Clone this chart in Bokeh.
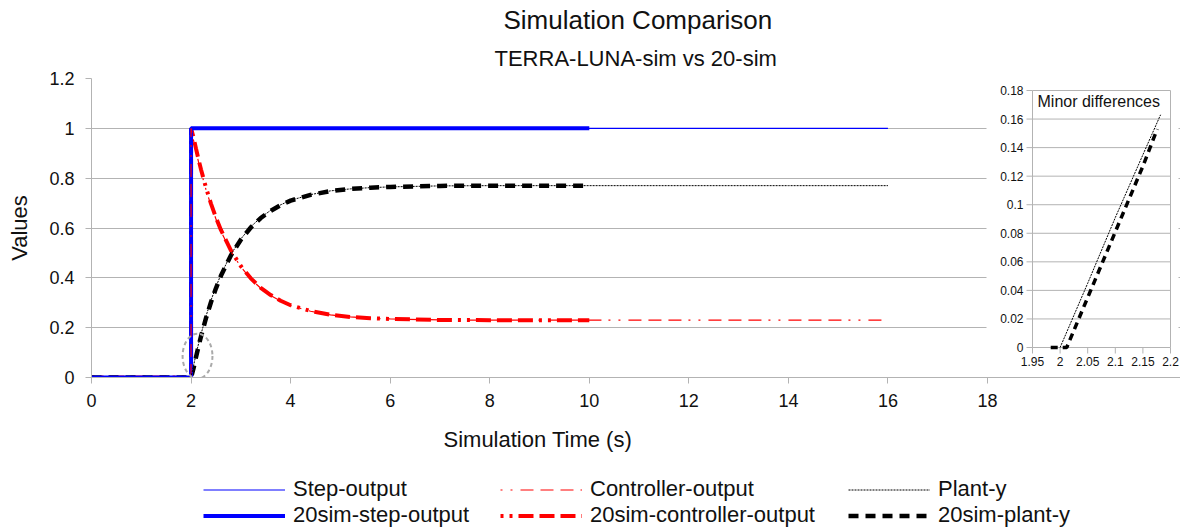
from bokeh.plotting import figure
from bokeh.layouts import column
from bokeh.models import Range1d, FixedTicker, Title, Legend, LegendItem
from bokeh.embed import file_html
from bokeh.resources import INLINE
from bokeh.core.properties import value

# ---------------- data ----------------
t_sim = [0, 1, 2, 2, 2.05, 2.1, 2.15, 2.2, 2.3, 2.4, 2.5, 2.6, 2.8, 3.0, 3.2, 3.4,
         3.6, 3.8, 4.0, 4.4, 4.8, 5.2, 5.6, 6.0, 7.0, 8.0, 9.0, 10.0, 12.0, 14.0, 16.0]
step_output = [0, 0, 0, 1, 1, 1, 1, 1, 1, 1, 1, 1, 1, 1, 1, 1,
               1, 1, 1, 1, 1, 1, 1, 1, 1, 1, 1, 1, 1, 1, 1]
controller_output = [0, 0, 0, 1.0, 0.952, 0.907, 0.865, 0.826, 0.754, 0.691, 0.636, 0.587,
                     0.506, 0.444, 0.395, 0.358, 0.329, 0.307, 0.289, 0.266, 0.251, 0.243,
                     0.238, 0.235, 0.231, 0.230, 0.230, 0.230, 0.230, 0.230, 0.230]
plant_y = [0, 0, 0, 0, 0.048, 0.093, 0.135, 0.174, 0.246, 0.309, 0.364, 0.413,
           0.494, 0.556, 0.605, 0.642, 0.671, 0.693, 0.711, 0.734, 0.749, 0.757,
           0.762, 0.765, 0.769, 0.770, 0.770, 0.770, 0.770, 0.770, 0.770]

t_20sim = [0, 1, 2, 2, 2.05, 2.1, 2.15, 2.2, 2.3, 2.4, 2.5, 2.6, 2.8, 3.0, 3.2, 3.4,
           3.6, 3.8, 4.0, 4.4, 4.8, 5.2, 5.6, 6.0, 7.0, 8.0, 9.0, 10.0]
sim20_step_output = [0, 0, 0, 1, 1, 1, 1, 1, 1, 1, 1, 1, 1, 1, 1, 1,
                     1, 1, 1, 1, 1, 1, 1, 1, 1, 1, 1, 1]
sim20_controller_output = [0, 0, 0, 1.0, 0.963, 0.918, 0.875, 0.835, 0.762, 0.698, 0.642, 0.592,
                           0.510, 0.447, 0.398, 0.360, 0.331, 0.308, 0.290, 0.267, 0.252, 0.243,
                           0.238, 0.235, 0.231, 0.230, 0.230, 0.230]
sim20_plant_y = [0, 0, 0, 0, 0.037, 0.082, 0.125, 0.165, 0.238, 0.302, 0.358, 0.408,
                 0.490, 0.553, 0.602, 0.640, 0.669, 0.692, 0.710, 0.733, 0.748, 0.757,
                 0.762, 0.765, 0.769, 0.770, 0.770, 0.770]

# zoomed-in detail ("Minor differences")
inset_t_plant = [2.0, 2.05, 2.1, 2.15, 2.182]
inset_plant_y = [0.0, 0.045, 0.091, 0.135, 0.163]
inset_t_20sim = [1.983, 2.012, 2.05, 2.1, 2.15, 2.176]
inset_20sim_plant_y = [0.0, 0.0, 0.035, 0.081, 0.127, 0.153]

x_ticks = [0, 2, 4, 6, 8, 10, 12, 14, 16, 18]
y_ticks = [0, 0.2, 0.4, 0.6, 0.8, 1.0, 1.2]
y_tick_labels = ["0", "0.2", "0.4", "0.6", "0.8", "1", "1.2"]
inset_x_ticks = [1.95, 2.0, 2.05, 2.1, 2.15, 2.2]
inset_x_labels = ["1.95", "2", "2.05", "2.1", "2.15", "2.2"]
inset_y_ticks = [0, 0.02, 0.04, 0.06, 0.08, 0.1, 0.12, 0.14, 0.16, 0.18]
inset_y_labels = ["0", "0.02", "0.04", "0.06", "0.08", "0.1", "0.12", "0.14", "0.16", "0.18"]

legend_labels = ["Step-output", "Controller-output", "Plant-y",
                 "20sim-step-output", "20sim-controller-output", "20sim-plant-y"]

# highlighted region around the step (centre x, centre y, width, height)
highlight = (2.13, 0.086, 0.6, 0.18)

# ---------------- layout (screen pixels of the reference) ----------------
FONT = "Liberation Sans"
TXT = "#111111"
GRID = "#b3b3b3"
W = 1180
H_MAIN, H_LEG = 470, 58
FR_L, FR_R, FR_T, FR_B = 91, 1180, 78, 377       # frame edges on the page
X18_PX = 987                                      # where x = 18 sits
IX0_PX, IX1_PX = 1032, 1170                       # inset x = 1.95 / 2.2
IY0_PX, IY1_PX = 347, 90                          # inset y = 0 / 0.18
LEG_COL_X = [203, 500, 848]                       # legend columns (page px)

x_end = x_ticks[-1] * (FR_R - FR_L) / (X18_PX - FR_L)
ix0, ix1 = inset_x_ticks[0], inset_x_ticks[-1]
iy0, iy1 = inset_y_ticks[0], inset_y_ticks[-1]
ipx = (ix1 - ix0) / (IX1_PX - IX0_PX)
ipy = (iy1 - iy0) / (IY0_PX - IY1_PX)

p = figure(width=W, height=H_MAIN, title=None, output_backend="svg", toolbar_location=None,
           x_range=Range1d(0, x_end), y_range=Range1d(y_ticks[0], y_ticks[-1]),
           min_border_left=FR_L, min_border_right=W - FR_R,
           min_border_top=FR_T, min_border_bottom=H_MAIN - FR_B)
p.extra_x_ranges = {"inset": Range1d(ix0 - (IX0_PX - FR_L) * ipx, ix1 + (FR_R - IX1_PX) * ipx)}
p.extra_y_ranges = {"inset": Range1d(iy0 - (FR_B - IY0_PX) * ipy, iy1 + (IY1_PX - FR_T) * ipy)}
p.outline_line_color = None

p.xgrid.visible = False
p.ygrid.grid_line_color = GRID
p.ygrid.ticker = FixedTicker(ticks=y_ticks)

for ax in (p.xaxis[0], p.yaxis[0]):
    ax.axis_line_color = GRID
    ax.major_tick_line_color = GRID
    ax.minor_tick_line_color = None
    ax.major_tick_in = 0
    ax.major_tick_out = 6
    ax.major_label_text_font = FONT
    ax.major_label_text_font_size = "18px"
    ax.major_label_text_color = TXT
    ax.axis_label_text_font = FONT
    ax.axis_label_text_font_size = "22px"
    ax.axis_label_text_font_style = "normal"
    ax.axis_label_text_color = TXT
p.xaxis.ticker = FixedTicker(ticks=x_ticks)
p.xaxis.major_label_standoff = 10
p.yaxis.ticker = FixedTicker(ticks=y_ticks)
p.yaxis.major_label_overrides = {t: s for t, s in zip(y_ticks, y_tick_labels)}
p.yaxis.major_label_standoff = 11
p.yaxis.axis_label = "Values"
p.yaxis.axis_label_standoff = 14

# ---------------- main series ----------------
STY = [
    dict(color="#0000ff", line_width=1.2),
    dict(color="#ff0000", line_width=1.2, line_dash="2 8 2 8 13 7 13 7 13 7"),
    dict(color="black", line_width=1, line_dash="2 1"),
    dict(color="#0000ff", line_width=4),
    dict(color="#ff0000", line_width=4, line_dash="3 6 3 6 15 6 15 6 15 6"),
    dict(color="black", line_width=4.5, line_dash="10 7"),
]
p.line(t_20sim, sim20_controller_output, **STY[4])
p.line(t_20sim, sim20_plant_y, **STY[5])
p.line(t_20sim, sim20_step_output, **STY[3])
p.line(t_sim, step_output, **STY[0])
p.line(t_sim, controller_output, **STY[1])
p.line(t_sim, plant_y, **STY[2])

hx, hy, hw, hh = highlight
p.ellipse(x=[hx], y=[hy], width=[hw], height=[hh], fill_alpha=0,
          line_color="#aaaaaa", line_width=2, line_dash="4 3")

# ---------------- inset ----------------
ins = dict(x_range_name="inset", y_range_name="inset")
p.quad(left=[ix0 - 46 * ipx], right=[ix1 + 8 * ipx], bottom=[iy0 - 25 * ipy],
       top=[iy1 + 10 * ipy], fill_color="white", line_color=None, **ins)
n_in = len(inset_y_ticks) - 2
p.segment(x0=[ix0] * n_in, y0=inset_y_ticks[1:-1], x1=[ix1] * n_in, y1=inset_y_ticks[1:-1],
          line_color=GRID, line_width=1, **ins)
p.quad(left=[ix0], right=[ix1], bottom=[iy0], top=[iy1], fill_alpha=0,
       line_color=GRID, line_width=1, **ins)
p.segment(x0=[ix0 - 6 * ipx] * len(inset_y_ticks), y0=inset_y_ticks,
          x1=[ix0] * len(inset_y_ticks), y1=inset_y_ticks, line_color=GRID, **ins)
p.segment(x0=inset_x_ticks, y0=[iy0] * len(inset_x_ticks),
          x1=inset_x_ticks, y1=[iy0 - 6 * ipy] * len(inset_x_ticks), line_color=GRID, **ins)
p.text(x=[ix0 - 9 * ipx] * len(inset_y_ticks), y=inset_y_ticks, text=inset_y_labels,
       text_align="right", text_baseline="middle", text_font=value(FONT),
       text_font_size="12px", text_color=TXT, **ins)
p.text(x=inset_x_ticks, y=[iy0 - 9 * ipy] * len(inset_x_ticks), text=inset_x_labels,
       text_align="center", text_baseline="top", text_font=value(FONT),
       text_font_size="12px", text_color=TXT, **ins)
p.text(x=[ix0 + 5 * ipx], y=[iy1 - 11 * ipy], text=["Minor differences"],
       text_align="left", text_baseline="middle", text_font=value(FONT),
       text_font_size="16px", text_color=TXT, **ins)
p.line(inset_t_plant, inset_plant_y, color="black", line_width=1, line_dash="2 1", **ins)
p.line(inset_t_20sim, inset_20sim_plant_y, color="black", line_width=3.5, line_dash="7 5", **ins)

# ---------------- titles ----------------
p.add_layout(Title(text="TERRA-LUNA-sim vs 20-sim", align="left", offset=494 - FR_L,
                   text_font=FONT, text_font_size="22px", text_font_style="normal",
                   text_color=TXT, standoff=16), "above")
p.add_layout(Title(text="Simulation Comparison", align="left", offset=503 - FR_L,
                   text_font=FONT, text_font_size="26px", text_font_style="normal",
                   text_color=TXT, standoff=2), "above")
p.add_layout(Title(text="Simulation Time (s)", align="left", offset=443 - FR_L,
                   text_font=FONT, text_font_size="22px", text_font_style="normal",
                   text_color=TXT, standoff=31), "below")

# ---------------- legend (own strip below the chart) ----------------
pl = figure(width=W, height=H_LEG, output_backend="svg", toolbar_location=None,
            x_range=Range1d(100, 101), y_range=Range1d(100, 101),
            x_axis_type=None, y_axis_type=None,
            min_border_left=FR_L, min_border_right=W - FR_R, min_border_top=0,
            min_border_bottom=0)
pl.outline_line_color = None
pl.xgrid.visible = False
pl.ygrid.visible = False
proxies = [pl.line(t_sim, step_output, **STY[0]),
           pl.line(t_sim, controller_output, **STY[1]),
           pl.line(t_sim, plant_y, **STY[2]),
           pl.line(t_20sim, sim20_step_output, **STY[3]),
           pl.line(t_20sim, sim20_controller_output, **STY[4]),
           pl.line(t_20sim, sim20_plant_y, **STY[5])]
for c in range(3):
    lg = Legend(items=[LegendItem(label=legend_labels[c], renderers=[proxies[c]]),
                       LegendItem(label=legend_labels[c + 3], renderers=[proxies[c + 3]])],
                orientation="vertical", location=(LEG_COL_X[c] - FR_L, 0),
                glyph_width=82, glyph_height=25, label_height=25, label_standoff=8,
                spacing=0, padding=0, margin=0, label_text_font=FONT,
                label_text_font_size="22px", label_text_color=TXT,
                border_line_color=None, background_fill_alpha=0)
    pl.add_layout(lg)

layout = column(p, pl, spacing=0)
open("out.html", "w").write(file_html(layout, INLINE))
